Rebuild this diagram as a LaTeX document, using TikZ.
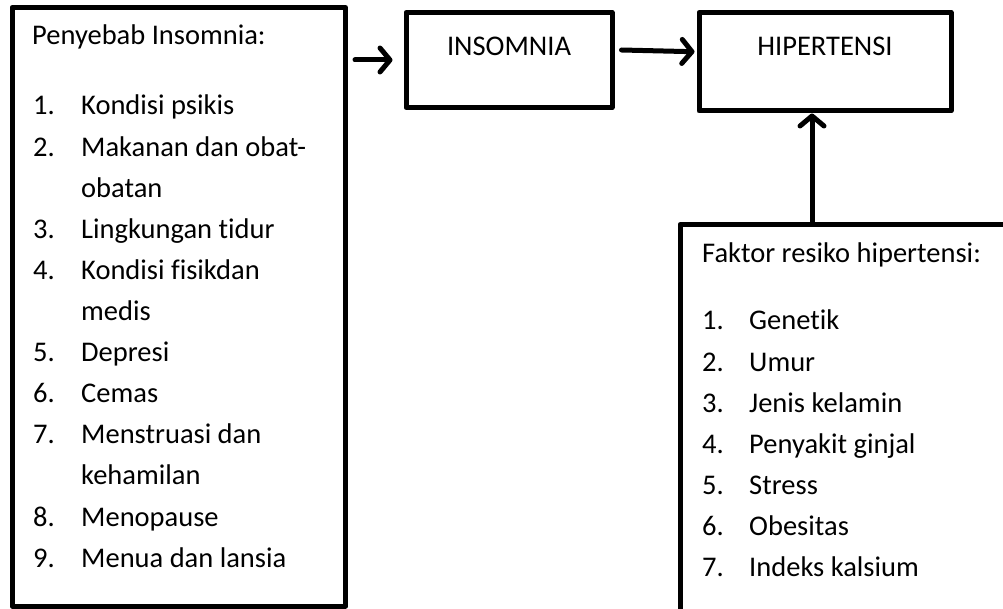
\documentclass[tikz,border=0pt]{standalone}
\usepackage{fontspec}
\setmainfont{Carlito}[Ligatures={NoCommon}]
\usetikzlibrary{arrows.meta,calc}
\begin{document}
\begin{tikzpicture}[x=1pt,y=-1pt,
  box/.style={draw,line width=5pt,rectangle,inner sep=0pt,line join=round},
  txt/.style={anchor=base west,inner sep=0pt,font=\fontsize{28.5}{34}\selectfont},
  ctxt/.style={anchor=base,inner sep=0pt,font=\fontsize{28.5}{34}\selectfont},
  arr/.style={line width=5pt,line cap=round,-{Straight Barb[length=10pt,width=24pt,line cap=round,line join=round]}}]
\useasboundingbox (0,0) rectangle (1003,609);
\clip (0,0) rectangle (1003,609);
% boxes
\node[box,minimum width=333.5pt,minimum height=598.5pt] (L) at (178.75,306.75) {};
\node[box,minimum width=206pt,minimum height=95pt] (I) at (509,60) {};
\node[box,minimum width=252pt,minimum height=98.5pt] (H) at (825,61.75) {};
\node[box,minimum width=440pt,minimum height=551pt] (R) at (900,500) {};
% box titles
\node[ctxt] (It) at (509,56) {INSOMNIA};
\node[ctxt] (Ht) at (825,56) {HIPERTENSI};
% left list
\node[txt] (Lt) at (32,45) {Penyebab Insomnia:};
\foreach \i/\n/\t/\y in {1/1./Kondisi psikis/115,
  2/2./Makanan dan obat-/156.1,
  3//obatan/197.2,
  4/3./Lingkungan tidur/238.3,
  5/4./Kondisi fisikdan/279.4,
  6//medis/320.5,
  7/5./Depresi/361.6,
  8/6./Cemas/402.7,
  9/7./Menstruasi dan/443.8,
  10//kehamilan/484.9,
  11/8./Menopause/526,
  12/9./Menua dan lansia/567.1}{
  \node[txt] (ln\i) at (33,\y) {\n};
  \node[txt] (lt\i) at (81,\y) {\t};
}
% right list
\node[txt] (Rt) at (702,263) {Faktor resiko hipertensi:};
\foreach \i/\t in {1/Genetik,2/Umur,3/Jenis kelamin,4/Penyakit ginjal,5/Stress,6/Obesitas,7/Indeks kalsium}{
  \node[txt] (rn\i) at (702,{330+41*(\i-1)}) {\i.};
  \node[txt] (rt\i) at (749,{330+41*(\i-1)}) {\t};
}
% arrows
\coordinate (v) at (812,0);
\draw[arr] ($(L.east|-I.west)+(7,0)$) -- ($(I.west)+(-11,0)$);
\draw[arr] ($([yshift=10pt]I.east)+(7,0)$) -- ($([yshift=10pt]H.west)+(-2,0)$);
\draw[arr] (R.north-|v) -- (H.south-|v);
\end{tikzpicture}
\end{document}
